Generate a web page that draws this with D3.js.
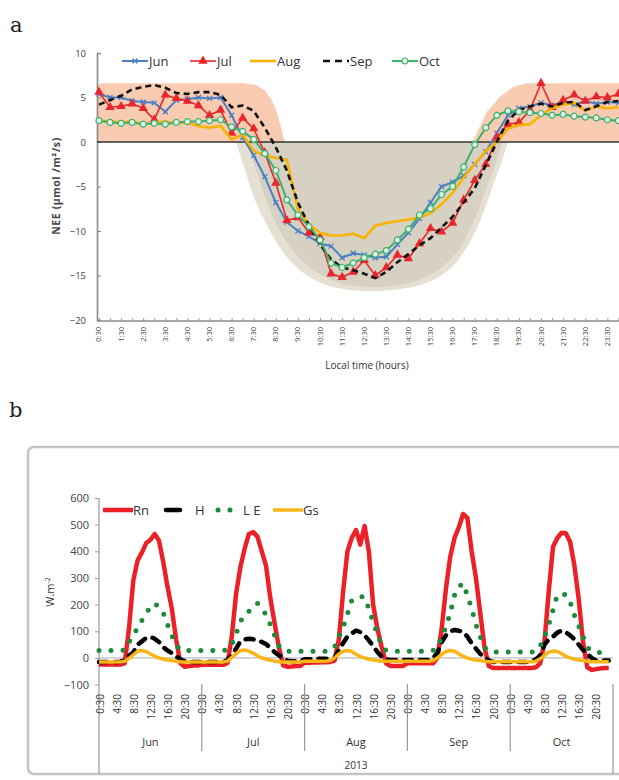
<!DOCTYPE html>
<html>
<head>
<meta charset="utf-8">
<script src="https://cdnjs.cloudflare.com/ajax/libs/d3/7.8.5/d3.min.js"></script>
<style>
    body { margin: 0; background: #fff; }
    svg { display: block; }
    text { font-family: "Open Sans", "Liberation Sans", sans-serif; }
    .panelLabel { font-family: "DejaVu Serif", "Liberation Serif", serif; }
</style>
</head>
<body>
<div id="chart"></div>
<script>
"use strict";

// ---------- panel a : NEE, half hourly, one mean day per month ----------
var hourLabels = ["0:30", "1:30", "2:30", "3:30", "4:30", "5:30", "6:30", "7:30",
    "8:30", "9:30", "10:30", "11:30", "12:30", "13:30", "14:30", "15:30",
    "16:30", "17:30", "18:30", "19:30", "20:30", "21:30", "22:30", "23:30"];
var neeTicks = [10, 5, 0, -5, -10, -15, -20];

var neeJun = [5.4, 5.0, 5.0, 4.6, 4.5, 4.4, 3.4, 4.7, 4.8, 5.0, 4.9, 5.0,
    3.0, 0.5, -1.5, -3.9, -6.8, -9.0, -10.0, -10.6, -11.4, -11.7, -13.0, -12.5,
    -12.7, -13.0, -12.9, -11.5, -10.2, -8.6, -6.8, -5.0, -4.5, -3.8, -2.5, -1.1,
    1.0, 3.0, 3.8, 4.0, 4.4, 4.1, 4.5, 4.2, 4.6, 4.3, 4.5, 4.4];
var neeJul = [5.6, 3.9, 4.0, 4.3, 3.8, 2.5, 5.3, 4.9, 4.6, 4.1, 3.0, 3.6,
    1.0, 2.7, 1.5, -1.2, -4.6, -8.8, -8.5, -10.2, -10.7, -14.8, -15.2, -14.6,
    -13.3, -15.0, -14.1, -12.7, -13.1, -11.4, -9.7, -10.1, -9.1, -6.5, -4.3, -2.5,
    0.5, 2.0, 2.2, 3.6, 6.6, 3.9, 4.7, 5.3, 4.6, 5.1, 5.0, 5.4];
var neeAug = [2.4, 2.3, 2.2, 2.3, 2.0, 2.2, 2.3, 2.1, 2.2, 1.8, 1.6, 1.8,
    0.3, 0.8, -1.0, -1.5, -1.8, -2.0, -7.5, -9.3, -10.2, -10.5, -10.5, -10.3,
    -10.8, -9.4, -9.1, -8.9, -8.7, -8.5, -8.0, -7.0, -5.7, -4.0, -2.5, -1.0,
    0.0, 1.5, 1.9, 2.0, 3.0, 3.8, 4.2, 4.4, 3.5, 4.0, 3.8, 3.9];
var neeSep = [4.2, 4.7, 5.2, 5.9, 6.2, 6.4, 6.1, 5.5, 5.4, 5.6, 5.6, 5.3,
    3.9, 4.1, 3.5, 1.6, -0.6, -3.2, -6.8, -9.4, -11.5, -13.2, -14.1, -14.4,
    -14.8, -15.3, -14.6, -13.5, -12.6, -11.6, -10.8, -9.6, -8.4, -6.8, -5.2, -2.6,
    0.0, 2.4, 3.6, 4.0, 4.3, 4.0, 4.4, 4.5, 3.6, 4.0, 4.5, 4.6];
var neeOct = [2.4, 2.2, 2.1, 2.2, 2.0, 2.1, 2.0, 2.2, 2.3, 2.3, 2.4, 2.5,
    1.7, 1.2, 0.3, -1.3, -3.2, -6.5, -8.2, -9.5, -11.0, -13.6, -14.1, -13.6,
    -13.0, -12.6, -12.2, -11.0, -9.8, -8.2, -7.5, -5.9, -5.0, -2.8, -0.3, 1.6,
    3.0, 3.5, 3.4, 3.3, 3.2, 3.0, 3.1, 2.9, 2.8, 2.7, 2.5, 2.4];

// shaded envelopes drawn behind the curves: [half hour index, NEE]
var sourceLeft = [[-0.2, 0], [-0.2, 6.4], [0.3, 6.6], [13.0, 6.6], [14.2, 6.4], [15.0, 5.8],
    [15.6, 4.8], [16.2, 3.0], [16.8, 0]];
var sourceRight = [[33.8, 0], [35.1, 3.4], [36.3, 5.1], [37.5, 6.2], [38.7, 6.6], [47.2, 6.6], [47.2, 0]];
var sinkOuter = [[12.4, 0], [13.2, -3.1], [14.1, -6.5], [15.3, -9.6], [16.8, -12.6], [18.6, -14.8],
    [20.9, -16.2], [23.6, -16.7], [26.8, -16.6], [29.5, -15.9], [31.8, -14.2], [33.4, -11.6],
    [34.7, -8.2], [35.7, -4.7], [36.5, -2.0], [37.0, 0]];
var sinkInner = [[13.4, 0], [14.2, -3.1], [15.1, -6.5], [16.2, -9.6], [17.6, -12.3], [19.5, -14.5],
    [22.0, -15.9], [25.0, -16.3], [28.0, -15.9], [30.4, -14.6], [32.4, -12.4], [33.8, -9.2],
    [34.9, -5.7], [35.8, -2.8], [36.5, 0]];

// ---------- panel b : energy fluxes, hourly, one mean day per month ----------
var monthNames = ["Jun", "Jul", "Aug", "Sep", "Oct"];
var dayTicks = ["0:30", "4:30", "8:30", "12:30", "16:30", "20:30"];
var fluxTicks = [600, 500, 400, 300, 200, 100, 0, -100];

var rnJun = [-25, -25, -25, -25, -25, -25, -20, 110, 290, 365, 395, 430, 443, 465, 440, 360, 267, 185, 70, -20, -33, -30, -28, -28];
var rnJul = [-26, -26, -26, -26, -26, -26, -19, 80, 240, 340, 410, 465, 472, 455, 400, 345, 225, 130, 40, -28, -33, -32, -30, -30];
var rnAug = [-18, -18, -17, -17, -16, -16, -15, -10, 70, 250, 400, 450, 480, 425, 495, 400, 200, 110, 40, -20, -30, -30, -30, -30];
var rnSep = [-20, -20, -20, -20, -20, -20, -20, 0, 110, 260, 380, 450, 490, 540, 525, 400, 300, 170, 40, -30, -38, -38, -38, -38];
var rnOct = [-38, -38, -38, -38, -38, -38, -35, -20, 60, 250, 417, 450, 470, 468, 435, 345, 220, 60, -35, -45, -42, -40, -38, -38];

var hJun = [-15, -15, -15, -15, -15, -14, -8, 8, 20, 50, 62, 75, 79, 72, 60, 40, 28, 18, 5, -5, -12, -15, -15, -15];
var hJul = [-15, -15, -15, -15, -15, -15, -8, 10, 35, 62, 70, 72, 70, 66, 60, 52, 38, 22, 10, 0, -10, -12, -12, -12];
var hAug = [-5, -5, -5, -3, -3, -3, -3, 0, 30, 56, 80, 92, 103, 97, 85, 66, 45, 22, 5, -5, -8, -8, -8, -8];
var hSep = [-8, -8, -8, -8, -8, -8, 0, 19, 60, 85, 100, 105, 102, 98, 80, 55, 35, 15, 5, -10, -15, -15, -15, -15];
var hOct = [-15, -15, -15, -15, -15, -12, -5, 10, 50, 70, 80, 95, 103, 96, 85, 70, 50, 30, 15, 0, -10, -10, -10, -10];

var leJun = [28, 28, 28, 28, 28, 28, 30, 60, 80, 115, 140, 168, 190, 205, 190, 169, 125, 85, 50, 30, 28, 28, 28, 28];
var leJul = [28, 28, 28, 28, 28, 28, 30, 50, 90, 135, 165, 175, 195, 205, 185, 162, 124, 85, 45, 28, 25, 25, 25, 25];
var leAug = [25, 25, 25, 25, 25, 25, 28, 40, 80, 116, 165, 215, 228, 230, 228, 185, 135, 90, 45, 28, 25, 25, 25, 25];
var leSep = [25, 25, 25, 25, 25, 25, 28, 40, 80, 116, 169, 235, 267, 280, 235, 185, 125, 80, 40, 25, 22, 22, 22, 22];
var leOct = [22, 22, 22, 22, 22, 22, 25, 45, 80, 125, 180, 237, 240, 237, 210, 160, 120, 80, 40, 25, 22, 20, 20, 20];

var gsJun = [-15, -15, -15, -15, -15, -15, -12, -2, 12, 25, 28, 24, 15, 6, 0, -4, -8, -10, -12, -14, -15, -15, -15, -15];
var gsJul = [-15, -15, -15, -15, -15, -15, -12, 2, 15, 28, 30, 25, 18, 8, 0, -5, -8, -12, -14, -15, -15, -15, -15, -15];
var gsAug = [-12, -12, -12, -12, -12, -12, -10, 0, 15, 25, 28, 24, 14, 5, 0, -5, -8, -10, -12, -12, -12, -12, -12, -12];
var gsSep = [-12, -12, -12, -12, -12, -12, -10, 0, 14, 24, 28, 25, 15, 6, 0, -5, -8, -10, -12, -14, -14, -14, -14, -14];
var gsOct = [-14, -14, -14, -14, -14, -14, -12, -3, 10, 22, 26, 24, 16, 6, 0, -5, -8, -10, -12, -14, -14, -14, -14, -14];

var svg = d3.select("#chart").append("svg")
    .attr("width", 619)
    .attr("height", 780);

// panel letters
svg.append("text").attr("class", "panelLabel").attr("x", 10).attr("y", 32)
    .attr("font-size", 21).attr("fill", "#222").text("a");
svg.append("text").attr("class", "panelLabel").attr("x", 9).attr("y", 417)
    .attr("font-size", 21).attr("fill", "#222").text("b");

//==================== panel a ====================
var drawPanelA = function() {
    var g = svg.append("g"),
        x = d3.scaleLinear().domain([0, 47]).range([99, 618.4]),
        y = d3.scaleLinear().domain([-20, 10]).range([320, 53]),
        area = d3.line().x(function(d) { return x(d[0]); }).y(function(d) { return y(d[1]); }),
        smooth = d3.line().x(function(d) { return x(d[0]); }).y(function(d) { return y(d[1]); })
            .curve(d3.curveCatmullRom),
        line = d3.line().x(function(d, i) { return x(i); }).y(function(d) { return y(d); }),
        series,
        leg;

    // envelopes
    g.append("path").attr("d", area(sourceLeft) + "Z").attr("fill", "#f9cbb0");
    g.append("path").attr("d", area(sourceRight) + "Z").attr("fill", "#f9cbb0");
    g.append("path").attr("d", smooth(sinkOuter) + "Z").attr("fill", "#e6dfd4");
    g.append("path").attr("d", smooth(sinkInner) + "Z").attr("fill", "#d7d1c3");

    // axes
    g.append("g")
        .attr("transform", "translate(97,0)")
        .call(d3.axisLeft(y).tickValues(neeTicks).tickSize(-4).tickPadding(11))
        .call(function(a) {
            a.select(".domain").attr("stroke", "#8a8a8a").attr("stroke-width", 1.6);
            a.selectAll(".tick line").attr("stroke", "#8a8a8a");
            a.selectAll("text").attr("font-size", 9.5).attr("fill", "#444")
                .attr("font-family", "'Open Sans', sans-serif");
        });
    g.append("g")
        .attr("transform", "translate(0,321)")
        .call(d3.axisBottom(x).tickValues(d3.range(0, 48)).tickSize(-3).tickFormat(""))
        .call(function(a) {
            a.select(".domain").attr("stroke", "#8a8a8a").attr("stroke-width", 1.6)
                .attr("d", "M97,0H619");
            a.selectAll(".tick line").attr("stroke", "#999");
        });
    g.selectAll(".xlab").data(hourLabels).enter().append("text")
        .attr("class", "xlab")
        .attr("transform", function(d, i) {
            return "translate(" + x(i * 2) + ",327) rotate(-90)";
        })
        .attr("text-anchor", "end")
        .attr("dy", "0.33em")
        .attr("font-size", 7.5)
        .attr("fill", "#444")
        .text(function(d) { return d; });

    // zero line
    g.append("line").attr("x1", 97).attr("x2", 619).attr("y1", y(0)).attr("y2", y(0))
        .attr("stroke", "#333").attr("stroke-width", 1.6);

    // titles
    g.append("text")
        .attr("transform", "translate(60,186) rotate(-90)")
        .attr("text-anchor", "middle")
        .attr("font-size", 10.5).attr("font-weight", "bold").attr("fill", "#444")
        .attr("letter-spacing", 0.6)
        .text("NEE (µmol /m²/s)");
    g.append("text")
        .attr("x", 367).attr("y", 369)
        .attr("text-anchor", "middle")
        .attr("font-size", 10).attr("fill", "#333")
        .text("Local time (hours)");

    series = [
        { name: "Jun", values: neeJun, color: "#4a7fc3", width: 2, dash: null, marker: "x" },
        { name: "Jul", values: neeJul, color: "#e8262b", width: 1.6, dash: null, marker: "tri" },
        { name: "Aug", values: neeAug, color: "#f7b300", width: 2.6, dash: null, marker: null },
        { name: "Sep", values: neeSep, color: "#111", width: 2.6, dash: "6,4", marker: null },
        { name: "Oct", values: neeOct, color: "#3cb06c", width: 2, dash: null, marker: "circle" }
    ];

    var drawMarkers = function(sel, s) {
        if (s.marker === "x") {
            sel.append("path")
                .attr("d", "M-2.5,-2.5L2.5,2.5M-2.5,2.5L2.5,-2.5")
                .attr("stroke", s.color).attr("stroke-width", 1.3).attr("fill", "none");
        } else if (s.marker === "tri") {
            sel.append("path")
                .attr("d", d3.symbol().type(d3.symbolTriangle).size(38)())
                .attr("fill", s.color);
        } else if (s.marker === "circle") {
            sel.append("circle").attr("r", 3)
                .attr("fill", "#e3f3e6").attr("stroke", s.color).attr("stroke-width", 1.2);
        }
    };

    series.forEach(function(s) {
        g.append("path")
            .attr("d", line(s.values))
            .attr("fill", "none")
            .attr("stroke", s.color)
            .attr("stroke-width", s.width)
            .attr("stroke-dasharray", s.dash);
        if (s.marker) {
            g.selectAll(".m" + s.name).data(s.values).enter().append("g")
                .attr("class", "m" + s.name)
                .attr("transform", function(d, i) {
                    return "translate(" + x(i) + "," + y(d) + ")";
                })
                .each(function() { drawMarkers(d3.select(this), s); });
        }
    });

    // legend
    var legX = [122, 190, 250, 323, 392];
    leg = g.selectAll(".legA").data(series).enter().append("g")
        .attr("class", "legA")
        .attr("transform", function(d, i) { return "translate(" + legX[i] + ",61)"; });
    leg.append("line").attr("x1", 0).attr("x2", 26)
        .attr("stroke", function(d) { return d.color; })
        .attr("stroke-width", function(d) { return d.width; })
        .attr("stroke-dasharray", function(d) { return d.dash ? "7,5" : null; });
    leg.each(function(s) {
        var m = d3.select(this).append("g").attr("transform", "translate(13,0)");
        drawMarkers(m, s);
    });
    leg.append("text").attr("x", 27).attr("y", 4.5)
        .attr("font-size", 13).attr("fill", "#333")
        .text(function(d) { return d.name; });
};

//==================== panel b ====================
var drawPanelB = function() {
    var g = svg.append("g"),
        x = d3.scaleLinear().domain([0, 240]).range([99, 613]),
        y = d3.scaleLinear().domain([-100, 600]).range([684.6, 498]),
        toPoints,
        line,
        series,
        leg;

    // hourly values of each month sit on every other half-hour slot
    toPoints = function(months) {
        var pts = [];
        months.forEach(function(vals, m) {
            vals.forEach(function(v, h) {
                pts.push([m * 48 + h * 2, v]);
            });
        });
        return pts;
    };
    line = d3.line().x(function(d) { return x(d[0]); }).y(function(d) { return y(d[1]); });

    // frame
    g.append("rect").attr("x", 28).attr("y", 447).attr("width", 640).attr("height", 327)
        .attr("rx", 6).attr("fill", "none").attr("stroke", "#c4c4c4").attr("stroke-width", 2.5);

    // y axis
    g.append("g")
        .attr("transform", "translate(99,0)")
        .call(d3.axisLeft(y).tickValues(fluxTicks).tickSize(4).tickPadding(6))
        .call(function(a) {
            a.select(".domain").remove();
            a.selectAll(".tick line").attr("stroke", "#999");
            a.selectAll("text").attr("font-size", 11).attr("fill", "#444")
                .attr("font-family", "'Open Sans', sans-serif");
        });
    g.append("line").attr("x1", 99).attr("x2", 99).attr("y1", 498).attr("y2", 774)
        .attr("stroke", "#999").attr("stroke-width", 1.2);
    g.append("line").attr("x1", 99).attr("x2", 613).attr("y1", y(0)).attr("y2", y(0))
        .attr("stroke", "#aaa").attr("stroke-width", 1);

    g.append("text")
        .attr("transform", "translate(54,592) rotate(-90)")
        .attr("text-anchor", "middle")
        .attr("font-size", 11).attr("fill", "#333")
        .call(function(t) {
            t.append("tspan").text("W.m");
            t.append("tspan").attr("font-size", 7).attr("dy", -4).text("-2");
        });

    // category axis: hours, months, year
    monthNames.forEach(function(mn, m) {
        g.selectAll(".hl" + m).data(dayTicks).enter().append("text")
            .attr("transform", function(d, k) {
                return "translate(" + (x(m * 48 + k * 8) + 1) + ",694) rotate(-90)";
            })
            .attr("text-anchor", "end")
            .attr("dy", "0.35em")
            .attr("font-size", 10).attr("fill", "#333")
            .text(function(d) { return d; });
        g.append("text")
            .attr("x", x(m * 48 + 24)).attr("y", 746)
            .attr("text-anchor", "middle")
            .attr("font-size", 11).attr("fill", "#333")
            .text(mn);
    });
    g.selectAll(".sep").data(d3.range(1, 6)).enter().append("line")
        .attr("x1", function(d) { return x(d * 48); })
        .attr("x2", function(d) { return x(d * 48); })
        .attr("y1", 684)
        .attr("y2", function(d) { return d === 5 ? 774 : 751; })
        .attr("stroke", "#999").attr("stroke-width", 1.2);
    g.append("text").attr("x", 356).attr("y", 769).attr("text-anchor", "middle")
        .attr("font-size", 10).attr("fill", "#333").text("2013");

    series = [
        { name: "Rn", pts: toPoints([rnJun, rnJul, rnAug, rnSep, rnOct]), color: "#ec2127", width: 4.5, dash: null, cap: "butt" },
        { name: "H", pts: toPoints([hJun, hJul, hAug, hSep, hOct]), color: "#000", width: 4.5, dash: "8,8", cap: "round" },
        { name: "LE", pts: toPoints([leJun, leJul, leAug, leSep, leOct]), color: "#1e8a3a", width: 5, dash: "0,12", cap: "round" },
        { name: "Gs", pts: toPoints([gsJun, gsJul, gsAug, gsSep, gsOct]), color: "#fbb517", width: 3.5, dash: null, cap: "butt" }
    ];

    series.forEach(function(s) {
        g.append("path")
            .attr("d", line(s.pts))
            .attr("fill", "none")
            .attr("stroke", s.color)
            .attr("stroke-width", s.width)
            .attr("stroke-linecap", s.cap)
            .attr("stroke-linejoin", "round")
            .attr("stroke-dasharray", s.dash);
    });

    // legend
    var legX = [103, 163, 216, 273];
    leg = g.selectAll(".legB").data(series).enter().append("g")
        .attr("class", "legB")
        .attr("transform", function(d, i) { return "translate(" + legX[i] + ",510)"; });
    leg.append("line")
        .attr("x1", function(d) { return d.name === "H" ? 3 : d.name === "LE" ? 2 : 0; })
        .attr("x2", function(d) { return d.name === "H" ? 17 : d.name === "LE" ? 16 : 30; })
        .attr("stroke", function(d) { return d.color; })
        .attr("stroke-width", function(d) { return d.width; })
        .attr("stroke-linecap", function(d) { return d.cap; })
        .attr("stroke-dasharray", function(d) { return d.name === "LE" ? "0,12" : null; });
    leg.append("text")
        .attr("x", function(d) { return d.name === "H" ? 32 : d.name === "LE" ? 27 : 30; })
        .attr("y", 5)
        .attr("font-size", 13).attr("fill", "#333")
        .text(function(d) { return d.name === "LE" ? "L E" : d.name; });
};

drawPanelA();
drawPanelB();
</script>
</body>
</html>
